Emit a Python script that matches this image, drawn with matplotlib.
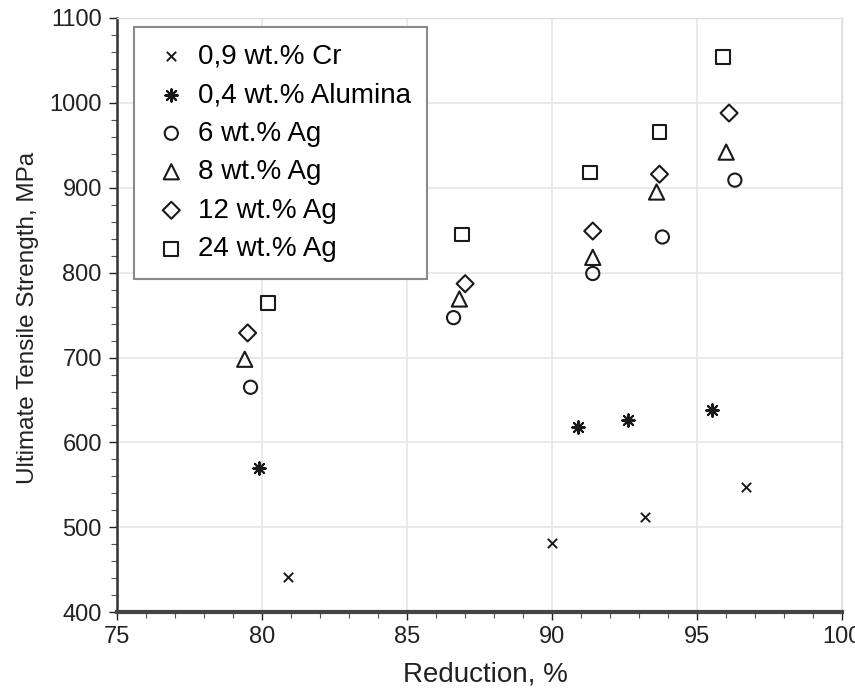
import matplotlib
matplotlib.use("Agg")
import matplotlib.pyplot as plt
from matplotlib.ticker import MultipleLocator

plt.rcParams['font.family'] = ['Liberation Sans', 'DejaVu Sans']

labels = ["0,9 wt.% Cr", "0,4 wt.% Alumina", "6 wt.% Ag", "8 wt.% Ag", "12 wt.% Ag", "24 wt.% Ag"]

cr_x = [80.9, 90.0, 93.2, 96.7]
cr_y = [442, 482, 512, 547]

al_x = [79.9, 90.9, 92.6, 95.5]
al_y = [570, 618, 626, 638]

ag6_x = [79.6, 86.6, 91.4, 93.8, 96.3]
ag6_y = [665, 747, 799, 842, 909]

ag8_x = [79.4, 86.8, 91.4, 93.6, 96.0]
ag8_y = [698, 769, 818, 895, 942]

ag12_x = [79.5, 87.0, 91.4, 93.7, 96.1]
ag12_y = [729, 787, 849, 916, 988]

ag24_x = [80.2, 86.9, 91.3, 93.7, 95.9]
ag24_y = [764, 845, 918, 966, 1054]

fig = plt.figure(figsize=(8.55, 6.91), dpi=100)
ax = fig.add_axes([0.137, 0.114, 0.848, 0.860])

c = '#1a1a1a'
ax.scatter(cr_x, cr_y, marker='x', s=45, color=c, linewidths=1.4, label=labels[0], zorder=3)
ax.scatter(al_x, al_y, marker=(8, 2, 0), s=80, color=c, linewidths=1.5, label=labels[1], zorder=3)
kw = dict(facecolors='none', edgecolors=c, linewidths=1.5, zorder=3)
ax.scatter(ag6_x, ag6_y, marker='o', s=90, label=labels[2], **kw)
ax.scatter(ag8_x, ag8_y, marker='^', s=120, label=labels[3], **kw)
ax.scatter(ag12_x, ag12_y, marker='D', s=75, label=labels[4], **kw)
ax.scatter(ag24_x, ag24_y, marker='s', s=100, label=labels[5], **kw)

ax.set_xlim(75, 100)
ax.set_ylim(400, 1100)
ax.xaxis.set_major_locator(MultipleLocator(5))
ax.xaxis.set_minor_locator(MultipleLocator(1))
ax.yaxis.set_major_locator(MultipleLocator(100))
ax.yaxis.set_minor_locator(MultipleLocator(20))
ax.grid(True, which='major', color='#e6e6e6', linewidth=1.2, zorder=0)
ax.set_axisbelow(True)

for s in ['top', 'right']:
    ax.spines[s].set_color('#dddddd')
    ax.spines[s].set_linewidth(1.0)
ax.spines['left'].set_color('#333333')
ax.spines['left'].set_linewidth(1.8)
ax.spines['bottom'].set_color('#444444')
ax.spines['bottom'].set_linewidth(3.0)

ax.tick_params(axis='both', which='major', labelsize=17, colors='#222222', length=6, width=1)
ax.tick_params(axis='both', which='minor', length=4, width=0.8, colors='#555555')
ax.tick_params(axis='x', which='major', pad=4)
ax.tick_params(axis='y', which='major', pad=5)

ax.set_xlabel("Reduction, %", fontsize=20, color='#222222')
ax.set_ylabel("Ultimate Tensile Strength, MPa", fontsize=17.5, color='#222222')
ax.xaxis.set_label_coords(0.508, -0.083)
ax.yaxis.set_label_coords(-0.108, 0.495)

leg = ax.legend(loc='upper left', bbox_to_anchor=(0.023, 0.985), borderaxespad=0,
                fontsize=20, frameon=True, fancybox=False, edgecolor='#8a8a8a', framealpha=1,
                handletextpad=0.2, labelspacing=0.45, borderpad=0.6, handlelength=1.5,
                scatterpoints=1)
leg.get_frame().set_linewidth(1.5)

fig.savefig("out.png", dpi=100)
